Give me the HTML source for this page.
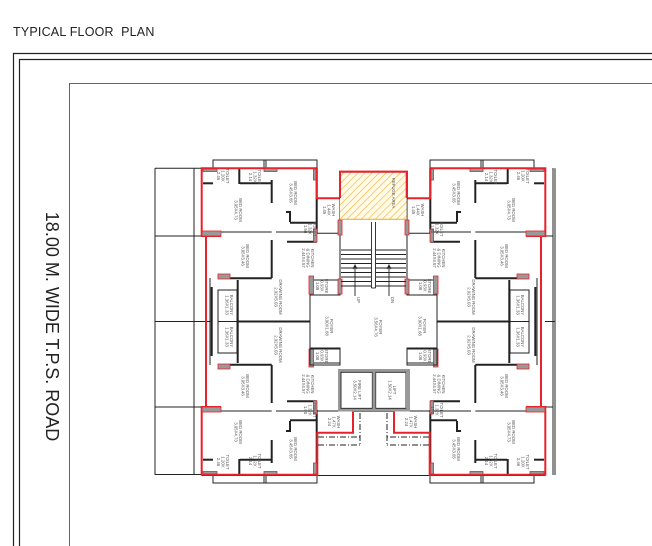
<!DOCTYPE html>
<html><head><meta charset="utf-8"><style>
html,body{margin:0;padding:0;background:#fff;}
body{width:652px;height:546px;overflow:hidden;position:relative;font-family:"Liberation Sans",sans-serif;}
.t{position:absolute;left:13px;top:25px;font-size:12.5px;color:#222;letter-spacing:0.2px;white-space:pre;}
</style></head><body>
<div class="t">TYPICAL FLOOR  PLAN</div>
<svg width="652" height="546" viewBox="0 0 652 546" style="position:absolute;left:0;top:0">
<defs>
<pattern id="h" width="5" height="5" patternUnits="userSpaceOnUse" patternTransform="rotate(45)">
<rect width="5" height="5" fill="#fffbe8"/><line x1="0" y1="0" x2="0" y2="5" stroke="#f2b233" stroke-width="1.2"/>
</pattern>
<g id="u" fill="none">
 <g stroke="#222" stroke-width="1">
  <line x1="194" y1="168" x2="194" y2="321.5"/>
  <line x1="194" y1="236" x2="202" y2="236"/>
  <line x1="210" y1="278" x2="210" y2="321.5"/>
  <rect x="213" y="160" width="104" height="8.3"/>
  <line x1="264" y1="160" x2="264" y2="168"/><line x1="266" y1="160" x2="266" y2="168"/>
  <line x1="221" y1="232" x2="271.7" y2="232"/>
  <line x1="276" y1="232" x2="316" y2="232"/>
  <rect x="218" y="290" width="19" height="31.5"/>
  <line x1="310" y1="295" x2="310" y2="321.5"/>
  <rect x="310" y="280" width="30" height="15"/>
 </g>
 <g stroke="#222" stroke-width="2">
  <line x1="239.3" y1="169" x2="239.3" y2="184"/>
  <line x1="203" y1="183.3" x2="213" y2="183.3"/>
  <line x1="240" y1="183.3" x2="271.7" y2="183.3"/>
  <line x1="271.7" y1="180" x2="271.7" y2="203"/>
  <line x1="271.7" y1="240" x2="271.7" y2="278"/>
  <line x1="230" y1="278.3" x2="271.7" y2="278.3"/>
  <line x1="237.7" y1="280" x2="237.7" y2="321.5"/>
  <line x1="211.7" y1="287" x2="211.7" y2="321.5"/>
  <line x1="237" y1="321.5" x2="310" y2="321.5"/>
  <line x1="290" y1="222.7" x2="316.7" y2="222.7"/>
  <line x1="287" y1="241.7" x2="316.7" y2="241.7"/>
  <polyline points="286,212 290,212 290,222"/>
  <line x1="316.7" y1="168" x2="316.7" y2="233"/>
 </g>
 <path d="M221 236 H201.7 V168.3 H316.7" stroke="#e8222a" stroke-width="2"/>
 <path d="M206 236 V321.5" stroke="#e8222a" stroke-width="2"/>
 <g fill="#999" stroke="#e8222a" stroke-width="0.8">
  <rect x="202" y="231" width="19" height="5"/>
  <rect x="313.5" y="169" width="3.5" height="11"/>
  <rect x="264" y="168.5" width="13" height="3"/>
  <rect x="203" y="169" width="14" height="2.5"/>
  <rect x="313.5" y="229" width="3.5" height="13"/>
  <rect x="218" y="274" width="12" height="5"/>
  <rect x="309" y="276" width="4.5" height="18"/>
 </g>
</g>
<g id="c" fill="none">
 <path d="M316.7 168.3 V198.3 H340 V171.7 H373.5" stroke="#e8222a" stroke-width="2"/>
 <path d="M317.3 476 V432.7 H353 V411 H373.5" stroke="#e8222a" stroke-width="2"/>
 <g stroke="#222" stroke-width="1">
  <line x1="317" y1="233.3" x2="340" y2="233.3"/>
  <line x1="340" y1="198" x2="340" y2="295"/>
  <line x1="310" y1="295" x2="310" y2="349"/>
  <rect x="310" y="349" width="30" height="16"/>
  <line x1="317" y1="411" x2="353" y2="411"/>
  <line x1="318" y1="437" x2="360" y2="437" stroke-dasharray="6,2,1,2"/>
  <line x1="360" y1="413" x2="360" y2="446" stroke-dasharray="6,2,1,2"/>
  <line x1="318" y1="445" x2="360" y2="445" stroke-dasharray="6,2,1,2"/>
 </g>
 <g fill="#999" stroke="#e8222a" stroke-width="0.8">
  <rect x="338" y="220" width="4" height="15"/>
  <rect x="338" y="279" width="4" height="15"/>
 </g>
</g>
</defs>

<g fill="none" stroke="#222" stroke-width="1.2">
 <path d="M13.5 546 V53.5 H652"/>
 <path d="M19.5 546 V59.5 H652"/>
</g>
<path d="M69.5 546 V83.5 H652" fill="none" stroke="#e03030" stroke-width="1"/>

<g fill="none" stroke="#222" stroke-width="1">
 <line x1="155" y1="168.3" x2="155" y2="475"/>
 <line x1="155" y1="168.3" x2="202" y2="168.3"/>
 <line x1="155" y1="474.5" x2="202" y2="474.5"/>
 <line x1="155" y1="321.5" x2="211" y2="321.5"/>
 <line x1="155" y1="236" x2="194" y2="236"/>
 <line x1="155" y1="407" x2="194" y2="407"/>
 <line x1="202" y1="475.5" x2="545" y2="475.5"/>
 <line x1="555" y1="168.3" x2="555" y2="475"/>
 <line x1="545" y1="321.5" x2="555" y2="321.5"/>
</g>

<use href="#u"/>
<use href="#u" transform="translate(747,0) scale(-1,1)"/>
<use href="#u" transform="translate(0,643) scale(1,-1)"/>
<use href="#u" transform="translate(747,643) scale(-1,-1)"/>
<use href="#c"/>
<use href="#c" transform="translate(747,0) scale(-1,1)"/>

<rect x="340" y="171.7" width="66.7" height="47.5" fill="url(#h)" stroke="none"/>
<path d="M340 219.3 H406.7" stroke="#f2b233" stroke-width="1.2"/>
<path d="M340 198 V171.7 H406.7 V198" fill="none" stroke="#e8222a" stroke-width="2"/>

<g stroke="#222" stroke-width="0.9" fill="none">
 <line x1="371.5" y1="222" x2="371.5" y2="288"/><line x1="375.5" y1="222" x2="375.5" y2="288"/>
 <line x1="371.5" y1="288" x2="375.5" y2="288"/>
 <line x1="341" y1="250" x2="371" y2="250"/><line x1="341" y1="254.5" x2="371" y2="254.5"/>
 <line x1="341" y1="259" x2="371" y2="259"/><line x1="341" y1="263.5" x2="371" y2="263.5"/>
 <line x1="341" y1="268" x2="371" y2="268"/><line x1="341" y1="272.5" x2="371" y2="272.5"/>
 <line x1="341" y1="277" x2="371" y2="277"/><line x1="341" y1="281.5" x2="371" y2="281.5"/>
 <line x1="341" y1="286" x2="371" y2="286"/>
 <line x1="376" y1="250" x2="406" y2="250"/><line x1="376" y1="254.5" x2="406" y2="254.5"/>
 <line x1="376" y1="259" x2="406" y2="259"/><line x1="376" y1="263.5" x2="406" y2="263.5"/>
 <line x1="376" y1="268" x2="406" y2="268"/><line x1="376" y1="272.5" x2="406" y2="272.5"/>
 <line x1="376" y1="277" x2="406" y2="277"/><line x1="376" y1="281.5" x2="406" y2="281.5"/>
 <line x1="376" y1="286" x2="406" y2="286"/>
 <line x1="355" y1="296" x2="355" y2="265"/><path d="M353 269 L355 265 L357 269"/>
 <line x1="389" y1="296" x2="389" y2="265"/><path d="M387 269 L389 265 L391 269"/>
</g>

<g fill="none">
 <rect x="339.5" y="370.5" width="69" height="39.5" stroke="#999" stroke-width="3"/>
 <rect x="341" y="372.3" width="31.3" height="36" stroke="#222" stroke-width="0.9"/>
 <rect x="375.7" y="372.3" width="30.3" height="36" stroke="#222" stroke-width="0.9"/>
 <line x1="374" y1="370" x2="374" y2="410" stroke="#999" stroke-width="3"/>
</g>

<g font-family="Liberation Sans, sans-serif" font-size="4.3" fill="#555" text-anchor="middle">
<text transform="translate(226,176) rotate(90)"><tspan x="0">TOILET</tspan><tspan x="0" dy="4.4">1.20X</tspan><tspan x="0" dy="4.4">2.46</tspan></text>
<text transform="translate(258,177) rotate(90)"><tspan x="0">TOILET</tspan><tspan x="0" dy="4.4">1.32X</tspan><tspan x="0" dy="4.4">2.14</tspan></text>
<text transform="translate(294,193) rotate(90)"><tspan x="0">BED ROOM</tspan><tspan x="0" dy="4.4">3.45X3.65</tspan></text>
<text transform="translate(239,210) rotate(90)"><tspan x="0">BED ROOM</tspan><tspan x="0" dy="4.4">3.05X4.73</tspan></text>
<text transform="translate(246,256) rotate(90)"><tspan x="0">BED ROOM</tspan><tspan x="0" dy="4.4">3.05X3.46</tspan></text>
<text transform="translate(279,297) rotate(90)"><tspan x="0">DRAWING ROOM</tspan><tspan x="0" dy="4.4">2.92X5.03</tspan></text>
<text transform="translate(230,305) rotate(90)"><tspan x="0">BALCONY</tspan><tspan x="0" dy="4.4">1.36X1.33</tspan></text>
<text transform="translate(311,258) rotate(90)"><tspan x="0">KITCHEN</tspan><tspan x="0" dy="4.4">&amp; DINING</tspan><tspan x="0" dy="4.4">2.44X4.57</tspan></text>
<text transform="translate(313,229) rotate(90)"><tspan x="0">TOILET</tspan><tspan x="0" dy="4.4">1.32X</tspan><tspan x="0" dy="4.4">1.50</tspan></text>
<text transform="translate(325,286) rotate(90)"><tspan x="0">STORE</tspan><tspan x="0" dy="4.4">0.93X</tspan><tspan x="0" dy="4.4">1.08</tspan></text>
<text transform="translate(526,176) rotate(90)"><tspan x="0">TOILET</tspan><tspan x="0" dy="4.4">1.20X</tspan><tspan x="0" dy="4.4">2.46</tspan></text>
<text transform="translate(494,177) rotate(90)"><tspan x="0">TOILET</tspan><tspan x="0" dy="4.4">1.32X</tspan><tspan x="0" dy="4.4">2.14</tspan></text>
<text transform="translate(457,193) rotate(90)"><tspan x="0">BED ROOM</tspan><tspan x="0" dy="4.4">3.45X3.65</tspan></text>
<text transform="translate(512,210) rotate(90)"><tspan x="0">BED ROOM</tspan><tspan x="0" dy="4.4">3.05X4.73</tspan></text>
<text transform="translate(505,256) rotate(90)"><tspan x="0">BED ROOM</tspan><tspan x="0" dy="4.4">3.05X3.46</tspan></text>
<text transform="translate(472,297) rotate(90)"><tspan x="0">DRAWING ROOM</tspan><tspan x="0" dy="4.4">2.92X5.03</tspan></text>
<text transform="translate(521,305) rotate(90)"><tspan x="0">BALCONY</tspan><tspan x="0" dy="4.4">1.36X1.33</tspan></text>
<text transform="translate(442,258) rotate(90)"><tspan x="0">KITCHEN</tspan><tspan x="0" dy="4.4">&amp; DINING</tspan><tspan x="0" dy="4.4">2.44X4.57</tspan></text>
<text transform="translate(440,229) rotate(90)"><tspan x="0">TOILET</tspan><tspan x="0" dy="4.4">1.32X</tspan><tspan x="0" dy="4.4">1.50</tspan></text>
<text transform="translate(428,286) rotate(90)"><tspan x="0">STORE</tspan><tspan x="0" dy="4.4">0.93X</tspan><tspan x="0" dy="4.4">1.08</tspan></text>
<text transform="translate(226,462) rotate(90)"><tspan x="0">TOILET</tspan><tspan x="0" dy="4.4">1.20X</tspan><tspan x="0" dy="4.4">2.46</tspan></text>
<text transform="translate(258,461) rotate(90)"><tspan x="0">TOILET</tspan><tspan x="0" dy="4.4">1.32X</tspan><tspan x="0" dy="4.4">2.14</tspan></text>
<text transform="translate(294,449) rotate(90)"><tspan x="0">BED ROOM</tspan><tspan x="0" dy="4.4">3.45X3.65</tspan></text>
<text transform="translate(239,432) rotate(90)"><tspan x="0">BED ROOM</tspan><tspan x="0" dy="4.4">3.05X4.73</tspan></text>
<text transform="translate(246,386) rotate(90)"><tspan x="0">BED ROOM</tspan><tspan x="0" dy="4.4">3.05X3.46</tspan></text>
<text transform="translate(279,345) rotate(90)"><tspan x="0">DRAWING ROOM</tspan><tspan x="0" dy="4.4">2.92X5.03</tspan></text>
<text transform="translate(230,337) rotate(90)"><tspan x="0">BALCONY</tspan><tspan x="0" dy="4.4">1.36X1.33</tspan></text>
<text transform="translate(311,384) rotate(90)"><tspan x="0">KITCHEN</tspan><tspan x="0" dy="4.4">&amp; DINING</tspan><tspan x="0" dy="4.4">2.44X4.57</tspan></text>
<text transform="translate(313,410) rotate(90)"><tspan x="0">TOILET</tspan><tspan x="0" dy="4.4">1.32X</tspan><tspan x="0" dy="4.4">1.50</tspan></text>
<text transform="translate(325,356) rotate(90)"><tspan x="0">STORE</tspan><tspan x="0" dy="4.4">0.93X</tspan><tspan x="0" dy="4.4">1.08</tspan></text>
<text transform="translate(526,462) rotate(90)"><tspan x="0">TOILET</tspan><tspan x="0" dy="4.4">1.20X</tspan><tspan x="0" dy="4.4">2.46</tspan></text>
<text transform="translate(494,461) rotate(90)"><tspan x="0">TOILET</tspan><tspan x="0" dy="4.4">1.32X</tspan><tspan x="0" dy="4.4">2.14</tspan></text>
<text transform="translate(457,449) rotate(90)"><tspan x="0">BED ROOM</tspan><tspan x="0" dy="4.4">3.45X3.65</tspan></text>
<text transform="translate(512,432) rotate(90)"><tspan x="0">BED ROOM</tspan><tspan x="0" dy="4.4">3.05X4.73</tspan></text>
<text transform="translate(505,386) rotate(90)"><tspan x="0">BED ROOM</tspan><tspan x="0" dy="4.4">3.05X3.46</tspan></text>
<text transform="translate(472,345) rotate(90)"><tspan x="0">DRAWING ROOM</tspan><tspan x="0" dy="4.4">2.92X5.03</tspan></text>
<text transform="translate(521,337) rotate(90)"><tspan x="0">BALCONY</tspan><tspan x="0" dy="4.4">1.36X1.33</tspan></text>
<text transform="translate(442,384) rotate(90)"><tspan x="0">KITCHEN</tspan><tspan x="0" dy="4.4">&amp; DINING</tspan><tspan x="0" dy="4.4">2.44X4.57</tspan></text>
<text transform="translate(440,410) rotate(90)"><tspan x="0">TOILET</tspan><tspan x="0" dy="4.4">1.32X</tspan><tspan x="0" dy="4.4">1.50</tspan></text>
<text transform="translate(428,356) rotate(90)"><tspan x="0">STORE</tspan><tspan x="0" dy="4.4">0.93X</tspan><tspan x="0" dy="4.4">1.08</tspan></text>
<text transform="translate(332,210) rotate(90)"><tspan x="0">WASH</tspan><tspan x="0" dy="4.4">1.44X</tspan><tspan x="0" dy="4.4">1.45</tspan></text>
<text transform="translate(421,210) rotate(90)"><tspan x="0">WASH</tspan><tspan x="0" dy="4.4">1.44X</tspan><tspan x="0" dy="4.4">1.45</tspan></text>
<text transform="translate(337,422) rotate(90)"><tspan x="0">WASH</tspan><tspan x="0" dy="4.4">1.47X</tspan><tspan x="0" dy="4.4">2.24</tspan></text>
<text transform="translate(414,422) rotate(90)"><tspan x="0">WASH</tspan><tspan x="0" dy="4.4">1.47X</tspan><tspan x="0" dy="4.4">2.24</tspan></text>
<text transform="translate(330,326) rotate(90)"><tspan x="0">FOYER</tspan><tspan x="0" dy="4.4">3.90X1.68</tspan></text>
<text transform="translate(423,326) rotate(90)"><tspan x="0">FOYER</tspan><tspan x="0" dy="4.4">3.90X1.68</tspan></text>
<text transform="translate(379,327) rotate(90)"><tspan x="0">FOYER</tspan><tspan x="0" dy="4.4">3.56X4.76</tspan></text>
<text transform="translate(392,193) rotate(90)"><tspan x="0">REFUGE AREA</tspan></text>
<text transform="translate(358,390) rotate(90)"><tspan x="0">FIRE LIFT</tspan><tspan x="0" dy="4.4">3.50X2.14</tspan></text>
<text transform="translate(393,390) rotate(90)"><tspan x="0">LIFT</tspan><tspan x="0" dy="4.4">1.50X2.14</tspan></text>
<text transform="translate(357,300) rotate(90)">UP</text>
<text transform="translate(391,300) rotate(90)">DN</text>
</g>

<text transform="translate(46,326.5) rotate(90)" font-family="Liberation Sans, sans-serif" font-size="18" fill="#222" text-anchor="middle">18.00 M. WIDE T.P.S. ROAD</text>
</svg>
</body></html>
